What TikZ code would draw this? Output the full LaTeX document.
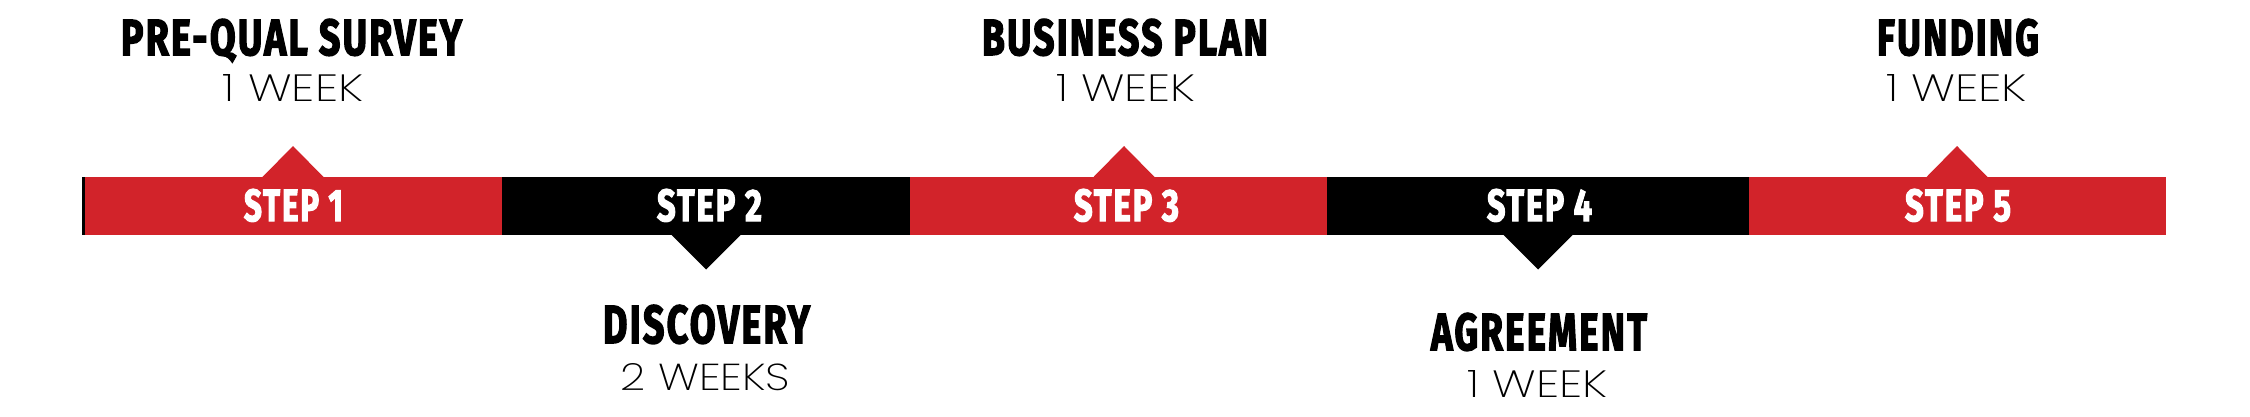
\documentclass[tikz,border=0pt]{standalone}
\usepackage{fontspec}
\usepackage{graphicx}
\newfontfamily\headfont{Fira Sans}[LetterSpace=6,BoldFeatures={FakeBold=3}]
\newfontfamily\subfont{Poppins}[UprightFont=* ExtraLight]
\definecolor{stepred}{HTML}{D2232A}
\newcommand{\headtxt}[3]{\resizebox{#1pt}{#2pt}{\headfont\bfseries #3}}
\newcommand{\subtxt}[3]{\resizebox{#1pt}{#2pt}{\subfont #3}}
\begin{document}
\begin{tikzpicture}[x=1pt,y=-1pt,
  seg/.style={rectangle,inner sep=0pt,minimum height=58pt,minimum width=#1pt,anchor=north west},
  lbl/.style={inner sep=0pt,anchor=base},
  steptxt/.style={lbl,text=white}]
\useasboundingbox[fill=white] (0,0) rectangle (2250,417);
% bar segments
\node[seg=420,fill=stepred] (s1) at (82,177) {};
\node[seg=408,fill=black] (s2) at (502,177) {};
\node[seg=417,fill=stepred] (s3) at (910,177) {};
\node[seg=422,fill=black] (s4) at (1327,177) {};
\node[seg=417,fill=stepred] (s5) at (1749,177) {};
\fill[black] (s1.north west) rectangle ([xshift=3pt]s1.south west);
% pointers
\fill[stepred] (262,177.5) -- (293,146) -- (324,177.5) -- cycle;
\fill[stepred] (1093,177.5) -- (1124,146) -- (1155,177.5) -- cycle;
\fill[stepred] (1926,177.5) -- (1957,146) -- (1988,177.5) -- cycle;
\fill[black] (671,234.5) -- (706,269.5) -- (741,234.5) -- cycle;
\fill[black] (1503,234.5) -- (1538,269.5) -- (1573,234.5) -- cycle;
% step labels
\node[steptxt] (t1) at (293.5,221) {\headtxt{99}{32}{STEP 1}};
\node[steptxt] (t2) at (709.5,221) {\headtxt{105}{32}{STEP 2}};
\node[steptxt] (t3) at (1126.5,221) {\headtxt{105}{32}{STEP 3}};
\node[steptxt] (t4) at (1539.5,221) {\headtxt{105}{32}{STEP 4}};
\node[steptxt] (t5) at (1958,221) {\headtxt{106}{32}{STEP 5}};
% titles
\node[lbl] (h1) at (291.5,55) {\headtxt{341}{36}{PRE-QUAL SURVEY}};
\node[lbl] (d1) at (293,102) {\subtxt{140}{27}{1 WEEK}};
\node[lbl] (h3) at (1125,55) {\headtxt{286}{36}{BUSINESS PLAN}};
\node[lbl] (d3) at (1125.5,102) {\subtxt{139}{27}{1 WEEK}};
\node[lbl] (h5) at (1958,55) {\headtxt{162}{36}{FUNDING}};
\node[lbl] (d5) at (1956.5,102) {\subtxt{141}{27}{1 WEEK}};
\node[lbl] (h2) at (706.5,343) {\headtxt{207}{38}{DISCOVERY}};
\node[lbl] (d2) at (705.5,390) {\subtxt{169}{27}{2 WEEKS}};
\node[lbl] (h4) at (1539,350) {\headtxt{216}{37}{AGREEMENT}};
\node[lbl] (d4) at (1537,397) {\subtxt{140}{27}{1 WEEK}};
\end{tikzpicture}
\end{document}
